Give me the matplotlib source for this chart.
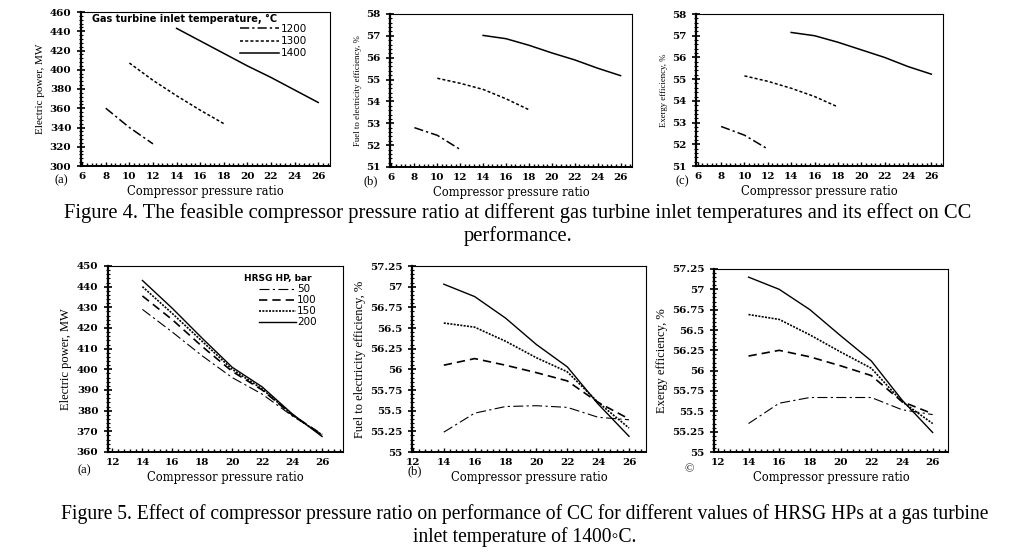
import matplotlib
matplotlib.use("Agg")
import matplotlib.pyplot as plt
from matplotlib.ticker import MultipleLocator, AutoMinorLocator, FuncFormatter
from matplotlib.lines import Line2D

# ---------------- data ----------------
# Figure 4: gas turbine inlet temperature series
t1200_x = [8, 10, 12]
t1300_x = [10, 12, 14, 16, 18]
t1400_x = [14, 16, 18, 20, 22, 24, 26]

power_1200 = [360, 340, 323]
power_1300 = [407, 389, 373, 358, 344]
power_1400 = [443, 430, 417, 404, 392, 379, 366]

fuel_eff_1200 = [52.8, 52.45, 51.8]
fuel_eff_1300 = [55.06, 54.83, 54.55, 54.12, 53.62]
fuel_eff_1400 = [57.02, 56.87, 56.57, 56.22, 55.9, 55.52, 55.18]

exergy_1200 = [52.82, 52.42, 51.78]
exergy_1300 = [55.15, 54.9, 54.58, 54.2, 53.72]
exergy_1400 = [57.15, 57.0, 56.7, 56.35, 56.0, 55.58, 55.23]

temp_labels = ["1200", "1300", "1400"]

# Figure 5: HRSG HP series (1400 C)
hp_x = [14, 16, 18, 20, 22, 24, 26]
hp_labels = ["50", "100", "150", "200"]

power_50 = [429, 418, 406.5, 396, 388, 377.5, 368.5]
power_100 = [435.5, 424, 411, 399, 390, 378, 368.5]
power_150 = [440, 427, 413.5, 400, 390.5, 378, 368]
power_200 = [443, 429.5, 415, 401, 391.5, 378.5, 367.5]

fuel_50 = [55.24, 55.47, 55.55, 55.56, 55.54, 55.42, 55.39]
fuel_100 = [56.05, 56.13, 56.05, 55.96, 55.86, 55.6, 55.4]
fuel_150 = [56.56, 56.51, 56.34, 56.14, 55.97, 55.6, 55.29]
fuel_200 = [57.03, 56.88, 56.62, 56.3, 56.03, 55.58, 55.19]

exg_50 = [55.35, 55.6, 55.67, 55.67, 55.67, 55.52, 55.46]
exg_100 = [56.18, 56.25, 56.17, 56.06, 55.94, 55.62, 55.47]
exg_150 = [56.69, 56.63, 56.44, 56.23, 56.03, 55.62, 55.35]
exg_200 = [57.15, 57.0, 56.75, 56.43, 56.12, 55.64, 55.24]

# ---------------- figure ----------------
W, H = 1027, 557
fig = plt.figure(figsize=(W / 100, H / 100), dpi=100)
fig.patch.set_facecolor("white")


def rect(l, r, t, b):
    return [l / W, 1 - b / H, (r - l) / W, (b - t) / H]


def style_axes(ax, xlim, ylim, ymaj, ylabel, ylab_size, tick_size, fmt=False):
    ax.set_xlim(*xlim)
    ax.set_ylim(*ylim)
    ax.xaxis.set_major_locator(MultipleLocator(2))
    ax.xaxis.set_minor_locator(AutoMinorLocator(5))
    ax.yaxis.set_major_locator(MultipleLocator(ymaj))
    ax.yaxis.set_minor_locator(AutoMinorLocator(5))
    if fmt:
        ax.yaxis.set_major_formatter(FuncFormatter(lambda v, p: f"{v:g}"))
    ax.tick_params(axis="y", which="major", direction="inout", length=6, width=1.2)
    ax.tick_params(axis="y", which="minor", direction="inout", length=3, width=0.8)
    ax.tick_params(axis="x", which="major", direction="in", length=3, width=1.0)
    ax.tick_params(axis="x", which="minor", direction="in", length=2, width=1.0)
    ax.tick_params(axis="both", which="both", top=False, right=False, pad=4)
    for lab in ax.get_xticklabels() + ax.get_yticklabels():
        lab.set_fontfamily("DejaVu Serif")
        lab.set_fontweight("bold")
        lab.set_fontsize(tick_size)
    ax.spines["left"].set_linewidth(1.6)
    ax.spines["bottom"].set_linewidth(1.4)
    ax.spines["top"].set_linewidth(0.8)
    ax.spines["right"].set_linewidth(0.8)
    ax.set_ylabel(ylabel, family="Liberation Serif", fontsize=ylab_size, labelpad=3)
    ax.set_xlabel("Compressor pressure ratio", family="DejaVu Serif",
                  fontsize=8.3, labelpad=3)


st1200 = dict(color="black", lw=1.1, dashes=(6, 2, 1.5, 2))
st1300 = dict(color="black", lw=1.1, dashes=(2, 1.4))
st1400 = dict(color="black", lw=1.1)

st50 = dict(color="black", lw=0.8, dashes=(9, 3, 2, 3))
st100 = dict(color="black", lw=1.2, dashes=(5, 3))
st150 = dict(color="black", lw=1.2, dashes=(1.2, 0.8))
st200 = dict(color="black", lw=1.0)

# ----- Figure 4 -----
ax1 = fig.add_axes(rect(81, 330, 12, 166))
ax1.plot(t1200_x, power_1200, **st1200)
ax1.plot(t1300_x, power_1300, **st1300)
ax1.plot(t1400_x, power_1400, **st1400)
style_axes(ax1, (5.9, 27.0), (300, 460), 20, "Electric power, MW", 8, 7.5)
ax1.text(0.045, 0.985, "Gas turbine inlet temperature, °C", transform=ax1.transAxes,
         family="DejaVu Sans", fontweight="bold", fontsize=7.0, va="top", ha="left")
h4 = [Line2D([], [], **st1200), Line2D([], [], **st1300), Line2D([], [], **st1400)]
ax1.legend(h4, temp_labels, loc="upper right", bbox_to_anchor=(0.93, 0.955),
           frameon=False, handlelength=3.7, handletextpad=0.2,
           labelspacing=0.2, borderpad=0,
           prop={"family": "DejaVu Sans", "size": 7.5})

ax2 = fig.add_axes(rect(390, 632, 14, 167))
ax2.plot(t1200_x, fuel_eff_1200, **st1200)
ax2.plot(t1300_x, fuel_eff_1300, **st1300)
ax2.plot(t1400_x, fuel_eff_1400, **st1400)
style_axes(ax2, (5.87, 27.0), (51, 58), 1, "Fuel to electricity efficiency, %", 6.3, 7.5)

ax3 = fig.add_axes(rect(696, 943, 14, 166))
ax3.plot(t1200_x, exergy_1200, **st1200)
ax3.plot(t1300_x, exergy_1300, **st1300)
ax3.plot(t1400_x, exergy_1400, **st1400)
style_axes(ax3, (5.85, 27.0), (51, 58), 1, "Exergy efficiency, %", 6.3, 7.5)

# ----- Figure 5 -----
ax4 = fig.add_axes(rect(108, 343, 266, 452))
ax4.plot(hp_x, power_50, **st50)
ax4.plot(hp_x, power_100, **st100)
ax4.plot(hp_x, power_150, **st150)
ax4.plot(hp_x, power_200, **st200)
style_axes(ax4, (11.7, 27.4), (360, 450), 10, "Electric power, MW", 9, 7.5)
ax4.text(0.58, 0.955, "HRSG HP, bar", transform=ax4.transAxes,
         family="DejaVu Sans", fontweight="bold", fontsize=6.5, va="top", ha="left")
h5 = [Line2D([], [], **st50), Line2D([], [], **st100), Line2D([], [], **st150),
      Line2D([], [], **st200)]
ax4.legend(h5, hp_labels, loc="upper right", bbox_to_anchor=(0.91, 0.93),
           frameon=False, handlelength=3.5, handletextpad=0.1,
           labelspacing=0.1, borderpad=0,
           prop={"family": "DejaVu Sans", "size": 7.5})

ax5 = fig.add_axes(rect(412, 646, 266, 452))
ax5.plot(hp_x, fuel_50, **st50)
ax5.plot(hp_x, fuel_100, **st100)
ax5.plot(hp_x, fuel_150, **st150)
ax5.plot(hp_x, fuel_200, **st200)
style_axes(ax5, (11.94, 27.1), (55, 57.25), 0.25, "Fuel to electricity efficiency, %", 9, 7.5,
           fmt=True)

ax6 = fig.add_axes(rect(714, 948, 269, 452))
ax6.plot(hp_x, exg_50, **st50)
ax6.plot(hp_x, exg_100, **st100)
ax6.plot(hp_x, exg_150, **st150)
ax6.plot(hp_x, exg_200, **st200)
style_axes(ax6, (11.75, 27.0), (55, 57.25), 0.25, "Exergy efficiency, %", 9, 7.5, fmt=True)

for a in (ax5, ax6):
    for lab in a.get_yticklabels():
        lab.set_fontfamily("DejaVu Serif")
        lab.set_fontweight("bold")
        lab.set_fontsize(7.5)

# panel letters
for (px, py, s) in [(61, 180, "(a)"), (371, 181, "(b)"), (682, 181, "(c)"),
                    (84, 470, "(a)"), (415, 471, "(b)"), (689, 469, "©")]:
    fig.text(px / W, 1 - py / H, s, family="Liberation Serif", fontsize=9,
             ha="center", va="center")

# captions
fam = ["Liberation Serif", "DejaVu Serif"]
fig.text(518 / W, 1 - 213 / H,
         "Figure 4. The feasible compressor pressure ratio at different gas turbine inlet temperatures and its effect on CC",
         family=fam, fontsize=14.8, ha="center", va="center")
fig.text(518 / W, 1 - 236 / H, "performance.", family=fam, fontsize=14.8,
         ha="center", va="center")
fig.text(525 / W, 1 - 514 / H,
         "Figure 5. Effect of compressor pressure ratio on performance of CC for different values of HRSG HPs at a gas turbine",
         family=fam, fontsize=14.1, ha="center", va="center")
fig.text(525 / W, 1 - 537 / H, "inlet temperature of 1400\u25e6C.", family=fam,
         fontsize=14.1, ha="center", va="center")

fig.savefig("out.png", dpi=100, facecolor="white")
